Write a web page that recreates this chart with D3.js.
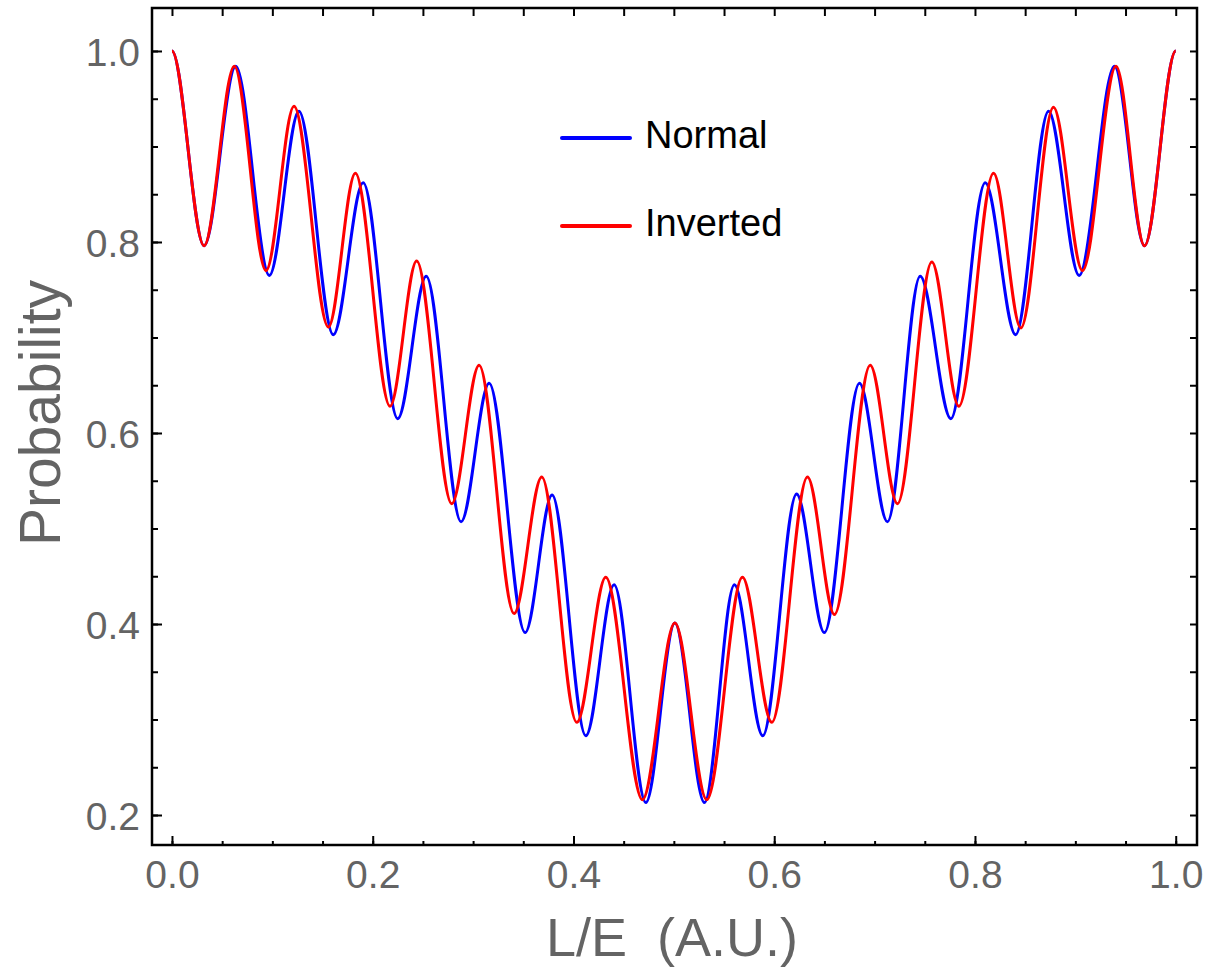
<!DOCTYPE html>
<html>
<head>
<meta charset="utf-8">
<script src="https://cdn.jsdelivr.net/npm/d3@7"></script>
<style>
  html, body { margin: 0; padding: 0; background: #fff; }
  svg { display: block; }
  text { font-family: "Liberation Sans", Arial, sans-serif; }
</style>
</head>
<body>
<svg id="chart" width="1207" height="972"></svg>
<script>
// ---- Data (extrema) ----
const normalX = [0.000, 0.032, 0.0635, 0.097, 0.1265, 0.1607, 0.1905, 0.2249, 0.2533, 0.288, 0.316, 0.3518, 0.3787, 0.4123, 0.4405, 0.4721, 0.501, 0.5305, 0.5603, 0.5886, 0.6223, 0.650, 0.6849, 0.7128, 0.7454, 0.776, 0.8102, 0.8405, 0.8733, 0.9038, 0.939, 0.9689, 1.000];
const normalY = [1.000, 0.796, 0.984, 0.765, 0.937, 0.703, 0.862, 0.615, 0.764, 0.507, 0.652, 0.391, 0.535, 0.283, 0.441, 0.213, 0.401, 0.213, 0.441, 0.283, 0.536, 0.391, 0.652, 0.507, 0.764, 0.615, 0.862, 0.703, 0.937, 0.765, 0.984, 0.796, 1.000];
const invertedX = [0.000, 0.032, 0.0621, 0.0937, 0.1216, 0.1558, 0.1827, 0.2172, 0.2438, 0.2787, 0.306, 0.3408, 0.3684, 0.4033, 0.4322, 0.4687, 0.501, 0.5328, 0.5683, 0.5976, 0.6331, 0.660, 0.6956, 0.7228, 0.757, 0.784, 0.8185, 0.8457, 0.8782, 0.9071, 0.9405, 0.9689, 1.000];
const invertedY = [1.000, 0.796, 0.984, 0.770, 0.942, 0.711, 0.872, 0.628, 0.780, 0.526, 0.671, 0.411, 0.554, 0.297, 0.449, 0.216, 0.401, 0.216, 0.449, 0.297, 0.554, 0.410, 0.671, 0.526, 0.779, 0.628, 0.872, 0.710, 0.941, 0.770, 0.984, 0.796, 1.000];
const seriesNames = ["Normal", "Inverted"];
const xTickLabels = ["0.0", "0.2", "0.4", "0.6", "0.8", "1.0"];
const yTickLabels = ["0.2", "0.4", "0.6", "0.8", "1.0"];
const xMajor = [0, 0.2, 0.4, 0.6, 0.8, 1.0];
const yMajor = [0.2, 0.4, 0.6, 0.8, 1.0];
const xMinor = d3.range(0, 21).map(i => +(i * 0.05).toFixed(2));
const yMinor = d3.range(4, 21).map(i => +(i * 0.05).toFixed(2));

// ---- Layout ----
const L = 152, R = 1197, T = 8, B = 845;
const svg = d3.select("#chart");

const x = d3.scaleLinear().domain([-0.0199, 1.0212]).range([L, R]);
const y = d3.scaleLinear().domain([0.1686, 1.045]).range([B, T]);

// Hermite curve with horizontal tangents at every point (all points are extrema)
function FlatHermite(context) { this._context = context; }
FlatHermite.prototype = {
  lineStart() { this._x0 = this._y0 = NaN; this._point = 0; },
  lineEnd() {},
  point(px, py) {
    px = +px; py = +py;
    if (this._point === 0) {
      this._point = 1;
      this._context.moveTo(px, py);
    } else {
      const h = (px - this._x0) / 3;
      this._context.bezierCurveTo(this._x0 + h, this._y0, px - h, py, px, py);
    }
    this._x0 = px; this._y0 = py;
  }
};
const flatCurve = ctx => new FlatHermite(ctx);

const line = d3.line().x(d => x(d[0])).y(d => y(d[1])).curve(flatCurve);

const normalData = normalX.map((v, i) => [v, normalY[i]]);
const invertedData = invertedX.map((v, i) => [v, invertedY[i]]);

svg.append("clipPath").attr("id", "plotclip")
  .append("rect").attr("x", L).attr("y", T).attr("width", R - L).attr("height", B - T);

const plot = svg.append("g").attr("clip-path", "url(#plotclip)");
plot.append("path").datum(normalData).attr("d", line)
  .attr("fill", "none").attr("stroke", "#0000ff").attr("stroke-width", 3).attr("stroke-linejoin", "round");
plot.append("path").datum(invertedData).attr("d", line)
  .attr("fill", "none").attr("stroke", "#ff0000").attr("stroke-width", 3).attr("stroke-linejoin", "round");

// ---- Axes / frame ticks ----
function styleAxis(g) {
  g.select(".domain").remove();
  g.selectAll(".tick line").attr("stroke", "#000").attr("stroke-width", 2);
}
// bottom minor
svg.append("g").attr("transform", `translate(0,${B})`)
  .call(d3.axisBottom(x).tickValues(xMinor).tickSize(-4).tickFormat(""))
  .call(styleAxis);
// bottom major with labels
svg.append("g").attr("transform", `translate(0,${B})`)
  .call(d3.axisBottom(x).tickValues(xMajor).tickSize(-9).tickPadding(0).tickFormat((d, i) => xTickLabels[i]))
  .call(styleAxis)
  .call(g => g.selectAll(".tick text").attr("y", 43).attr("dy", 0)
    .attr("fill", "#646464").style("font-size", "39px").style("font-family", "Liberation Sans, Arial, sans-serif"));
// top
svg.append("g").attr("transform", `translate(0,${T})`)
  .call(d3.axisTop(x).tickValues(xMinor).tickSize(-8).tickFormat(""))
  .call(styleAxis);
// left minor
svg.append("g").attr("transform", `translate(${L},0)`)
  .call(d3.axisLeft(y).tickValues(yMinor).tickSize(-6).tickFormat(""))
  .call(styleAxis);
// left major with labels
svg.append("g").attr("transform", `translate(${L},0)`)
  .call(d3.axisLeft(y).tickValues(yMajor).tickSize(-10).tickPadding(0).tickFormat((d, i) => yTickLabels[i]))
  .call(styleAxis)
  .call(g => g.selectAll(".tick text").attr("x", -12).attr("dy", "0.36em")
    .attr("fill", "#646464").style("font-size", "39px").style("font-family", "Liberation Sans, Arial, sans-serif"));
// right
svg.append("g").attr("transform", `translate(${R},0)`)
  .call(d3.axisRight(y).tickValues(yMinor).tickSize(-7).tickFormat(""))
  .call(styleAxis);

// frame
svg.append("rect").attr("x", L).attr("y", T).attr("width", R - L).attr("height", B - T)
  .attr("fill", "none").attr("stroke", "#000").attr("stroke-width", 2.5);

// ---- Axis titles ----
svg.append("text").attr("x", 672).attr("y", 956).attr("text-anchor", "middle")
  .attr("fill", "#646464").style("font-size", "54px").style("white-space", "pre")
  .text("L/E  (A.U.)");
svg.append("text").attr("transform", "translate(60,413) rotate(-90)").attr("text-anchor", "middle")
  .attr("fill", "#646464").style("font-size", "57px")
  .text("Probability");

// ---- Legend ----
const legendColors = ["#0000ff", "#ff0000"];
const legendY = [138, 226];
const lg = svg.append("g");
seriesNames.forEach((name, i) => {
  lg.append("line").attr("x1", 562).attr("x2", 630).attr("y1", legendY[i]).attr("y2", legendY[i])
    .attr("stroke", legendColors[i]).attr("stroke-width", 4).attr("stroke-linecap", "round");
  lg.append("text").attr("x", 645).attr("y", legendY[i] + 10)
    .attr("fill", "#000").style("font-size", "38px").text(name);
});
</script>
</body>
</html>
